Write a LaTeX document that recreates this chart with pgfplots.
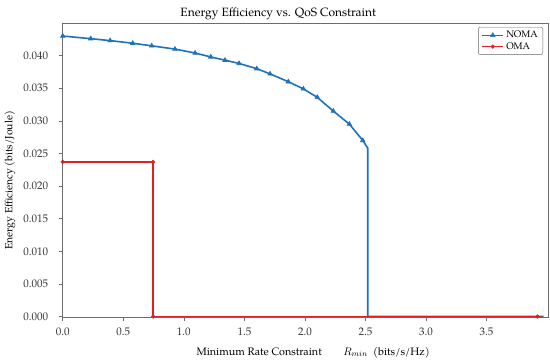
\documentclass[border=0pt]{standalone}
\usepackage{pgfplots}
\pgfplotsset{compat=1.18}
\usepackage{fontspec}
\setmainfont{TeX Gyre Pagella}
\usetikzlibrary{calc}
\definecolor{nomablue}{RGB}{31,114,186}
\definecolor{omared}{RGB}{222,32,36}
\begin{document}
\begin{tikzpicture}
\begin{axis}[
  scale only axis,
  width=485pt, height=294pt,
  xmin=0, xmax=4.007,
  ymin=-0.0001, ymax=0.045,
  axis line style={gray!85!black, line width=0.6pt},
  tick style={gray!85!black, line width=0.6pt},
  tick align=outside,
  major tick length=4pt,
  xtick={0,0.5,...,3.5},
  ytick={0,0.005,...,0.0401},
  xtick pos=bottom, ytick pos=left,
  minor tick num=0,
  scaled y ticks=false,
  /pgf/number format/assume math mode=true,
  xticklabel style={/pgf/number format/fixed, /pgf/number format/fixed zerofill, /pgf/number format/precision=1, yshift=-3.5pt},
  yticklabel style={/pgf/number format/fixed, /pgf/number format/fixed zerofill, /pgf/number format/precision=3, xshift=-7pt},
  tick label style={font=\fontsize{11}{13}\selectfont, text=black!80},
  title={Energy Efficiency vs. QoS Constraint},
  title style={at={(axis description cs:0.444,1)}, anchor=base, yshift=1pt, font=\fontsize{12}{14}\selectfont},
  xlabel={Minimum Rate Constraint\qquad $R_{min}$\ \ (bits/s/Hz)},
  every axis x label/.style={at={(axis description cs:0.516,0)}, anchor=base, yshift=-38pt, font=\fontsize{10.8}{12}\selectfont},
  ylabel={Energy Efficiency (bits/Joule)},
  every axis y label/.style={at={(axis description cs:-0.1087,0.465)}, anchor=center, rotate=90, font=\fontsize{10.5}{12}\selectfont},
  legend style={at={(axis description cs:1,1)}, anchor=north east, xshift=-5pt, yshift=-4pt,
    rounded corners=2pt, draw=gray!80!black, font=\fontsize{9.5}{11}\selectfont,
    inner xsep=3pt, inner ysep=2pt, row sep=-1pt},
  legend cell align=left,
  legend image post style={mark indices={2}},
  legend image code/.code={\draw[#1] plot coordinates {(0cm,0cm) (0.37cm,0cm) (0.74cm,0cm)};},
  clip=false,
]
\addplot[color=nomablue, line width=1.6pt, mark=triangle*, mark size=2.6pt,
  mark indices={1,...,18}, mark options={solid, line width=0.6pt}] coordinates {
(0,0.0430) (0.231,0.0426) (0.391,0.0423) (0.578,0.0419) (0.735,0.0415)
(0.927,0.0410) (1.093,0.0404) (1.222,0.0398) (1.340,0.0393) (1.456,0.0388)
(1.602,0.0380) (1.712,0.0372) (1.863,0.0360) (1.987,0.0349) (2.102,0.0336)
(2.234,0.0315) (2.367,0.0295) (2.477,0.0270) (2.519,0.0258) (2.519,0) (3.97,0)
};
\addlegendentry{NOMA}
\addplot[color=omared, line width=1.8pt, mark=*, mark size=1.8pt,
  mark indices={1,2,3,4}, mark options={line width=0.6pt}] coordinates {
(0,0.0237) (0.746,0.0237) (0.746,0) (3.92,0) (3.955,0)
};
\addlegendentry{OMA}
\end{axis}
\pgfresetboundingbox
\path[use as bounding box] ($(current axis.south west)+(-62.7pt,-44.3pt)$) rectangle ($(current axis.north east)+(2pt,23pt)$);
\end{tikzpicture}
\end{document}
